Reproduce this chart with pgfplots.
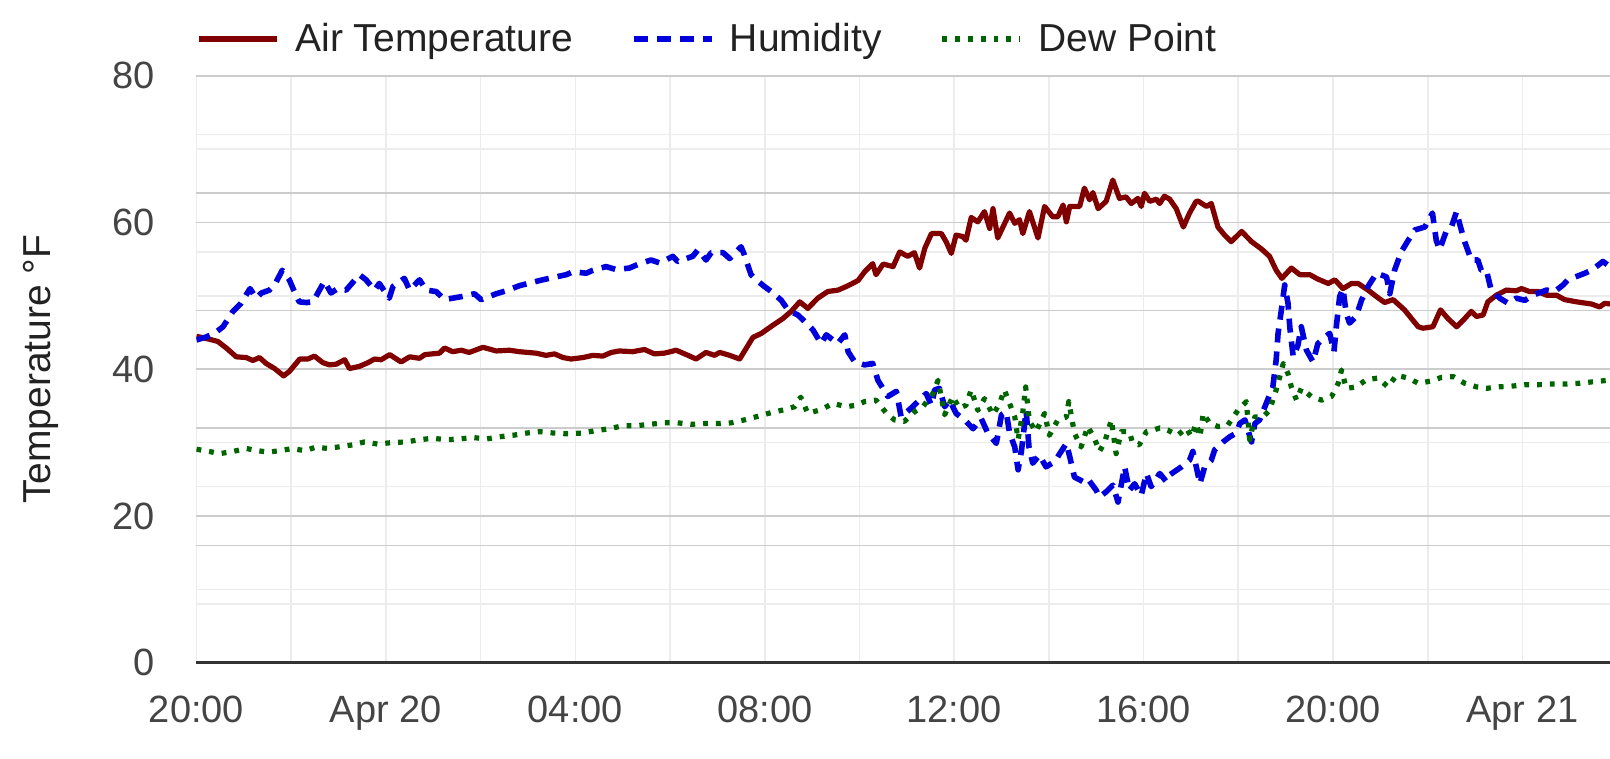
\documentclass[border=0pt]{standalone}
\usepackage{fontspec}
\setmainfont{Liberation Sans}
\usepackage{pgfplots}
\pgfplotsset{compat=1.18}
\definecolor{tempRed}{RGB}{128,0,0}
\definecolor{humBlue}{RGB}{0,0,220}
\definecolor{dewGreen}{RGB}{0,100,0}
\definecolor{gridDark}{RGB}{204,204,204}
\definecolor{gridLight}{RGB}{236,236,236}
\definecolor{axisDark}{RGB}{51,51,51}
\definecolor{tickText}{RGB}{68,68,68}
\definecolor{legText}{RGB}{34,34,34}
\begin{document}
\begin{tikzpicture}
\begin{axis}[
  at={(0pt,0pt)}, anchor=south west,
  scale only axis, width=706.75pt, height=293.4pt,
  xmin=0, xmax=29.85, ymin=0, ymax=80,
  axis lines*=left,
  x axis line style={draw=axisDark, line width=1.5pt},
  y axis line style={draw=none},
  xtick={0,4,8,12,16,20,24,28},
  xticklabels={20:00,Apr 20,04:00,08:00,12:00,16:00,20:00,Apr 21},
  minor xtick={2,6,10,14,18,22,26},
  ytick={0,20,40,60,80},
  minor ytick={8,10,24,30,50,56,70,72},
  extra y ticks={16,32,48,64},
  extra y tick labels={,,,},
  extra y tick style={grid=major},
  grid=both,
  major x grid style={draw=gridLight, line width=0.8pt},
  minor x grid style={draw=gridLight, line width=0.8pt},
  major y grid style={draw=gridDark, line width=0.8pt},
  minor y grid style={draw=gridLight, line width=0.8pt},
  major tick length=0pt, minor tick length=0pt,
  tick style={draw=none},
  /pgf/number format/assume math mode=true,
  yticklabel style={anchor=east, inner sep=0pt, xshift=-20.5pt, font=\fontsize{19}{23}\selectfont, text=tickText},
  xticklabel style={anchor=base, inner sep=0pt, yshift=-30pt, font=\fontsize{19}{23}\selectfont, text=tickText},
  ylabel={Temperature °F},
  ylabel style={at={(axis description cs:-0.1104,0.5)}, anchor=center, inner sep=0pt, font=\fontsize{19.5}{23}\selectfont, text=legText},
  legend columns=-1,
  legend image code/.code={\draw[#1] (0pt,0pt) -- (39pt,0pt);},
  legend image post style={line width=2.7pt},
  legend style={draw=none, fill=none, at={(0,1)}, anchor=west, yshift=18.5pt,
    font=\fontsize{19.5}{23}\selectfont, text=legText, inner sep=0pt, outer sep=0pt,
    nodes={inner sep=0pt},
    /tikz/every odd column/.append style={column sep=7.8pt},
    /tikz/every even column/.append style={column sep=29pt}},
]
\addplot[draw=tempRed, line width=2.6pt, line join=round] coordinates {
(0,44.5) (0.27,44.1) (0.45,43.8) (0.63,42.9) (0.84,41.7) (1.05,41.6) (1.19,41.2) (1.33,41.6) (1.47,40.8) (1.65,40.1) (1.84,39.1) (1.96,39.7) (2.18,41.4) (2.35,41.4) (2.49,41.8) (2.67,40.9) (2.81,40.6) (2.95,40.7) (3.13,41.3) (3.23,40.1) (3.44,40.4) (3.62,40.9) (3.76,41.4) (3.9,41.3) (4.08,42.0) (4.32,41.0) (4.5,41.7) (4.71,41.5) (4.82,42.0) (5.13,42.2)
(5.24,42.9) (5.41,42.4) (5.59,42.6) (5.76,42.3) (6.05,43.0) (6.33,42.5) (6.61,42.6) (6.82,42.4) (7.17,42.2) (7.38,41.9) (7.56,42.1) (7.74,41.6) (7.91,41.4) (8.16,41.6) (8.37,41.9) (8.58,41.8) (8.76,42.3) (8.93,42.5) (9.21,42.4) (9.46,42.7) (9.67,42.1) (9.88,42.2) (10.13,42.6)
(10.38,41.9) (10.55,41.4) (10.76,42.3) (10.94,41.9) (11.05,42.3) (11.26,41.9) (11.47,41.4) (11.75,44.35) (11.93,44.9) (12.17,46.0) (12.38,46.9) (12.56,47.9) (12.74,49.2) (12.91,48.3) (13.12,49.7) (13.33,50.6) (13.55,50.8) (13.76,51.4) (13.97,52.1) (14.11,53.3) (14.28,54.4) (14.35,52.9) (14.5,54.35) (14.71,54.0) (14.85,56.0) (15.02,55.4) (15.16,55.9) (15.27,53.8) (15.38,56.5) (15.52,58.5)
(15.73,58.5) (15.83,57.4) (15.94,55.8) (16.04,58.3) (16.18,58.1) (16.25,57.6) (16.36,60.7) (16.5,60.1) (16.64,61.5) (16.75,59.2) (16.82,61.9) (16.92,57.9) (17.17,61.3) (17.28,59.9) (17.38,60.4) (17.45,58.5) (17.59,61.5) (17.77,57.9) (17.91,62.2) (18.08,60.8) (18.19,60.8) (18.3,62.4) (18.37,60.1) (18.44,62.2) (18.65,62.2) (18.75,64.7) (18.86,63.1) (18.93,64.1) (19.04,61.9) (19.21,62.9) (19.35,65.8) (19.49,63.3) (19.63,63.5) (19.74,62.6) (19.88,63.3) (19.95,62.2) (20.02,64.0) (20.13,62.9) (20.27,63.2) (20.34,62.6) (20.44,63.6) (20.55,63.2) (20.69,61.9) (20.84,59.4) (20.97,61.3) (21.11,62.9)
(21.16,62.9) (21.33,62.2) (21.43,62.6) (21.57,59.4) (21.71,58.3) (21.85,57.4) (22.07,58.8) (22.28,57.4) (22.49,56.4) (22.66,55.4) (22.8,53.5) (22.92,52.4) (23.12,53.8) (23.3,52.9) (23.51,52.9) (23.68,52.3) (23.9,51.7) (24.04,52.2) (24.21,51.0) (24.39,51.7) (24.53,51.7) (24.74,50.8) (24.92,49.9) (25.09,49.1) (25.27,49.5) (25.51,48.1) (25.66,46.9) (25.8,45.8)
(25.9,45.6) (26.11,45.8) (26.27,48.1) (26.43,46.9) (26.61,45.8) (26.78,46.9) (26.92,47.9) (27.03,47.2) (27.17,47.4) (27.27,49.2) (27.45,50.1) (27.66,50.8) (27.87,50.7) (27.98,51.0) (28.15,50.6) (28.33,50.6) (28.51,50.1) (28.72,50.1) (28.89,49.5) (29.14,49.2) (29.46,48.9) (29.63,48.5) (29.74,49.0) (29.85,48.9)
};
\addlegendentry{Air Temperature}
\addplot[draw=humBlue, line width=2.8pt, line join=round, dash pattern=on 7pt off 4.5pt] coordinates {
(0,44.0) (0.2,44.4) (0.38,44.9) (0.56,45.8) (0.77,47.9) (0.94,49.0) (1.13,51.0) (1.26,49.7) (1.37,50.4) (1.54,50.8) (1.65,51.5) (1.81,53.5) (1.96,52.2) (2.1,50.1) (2.17,49.2) (2.32,49.1) (2.46,49.2) (2.7,52.0) (2.84,50.4) (2.98,51.0) (3.16,50.8) (3.44,52.9) (3.58,52.2) (3.76,50.8) (3.86,51.7) (4.07,49.7) (4.15,51.3) (4.39,52.4) (4.5,50.8) (4.71,52.2) (4.85,50.8) (5.06,50.6)
(5.24,49.5) (5.41,49.7) (5.59,49.9) (5.87,50.3) (6.01,49.5) (6.33,50.3) (6.54,50.7) (6.82,51.4) (7.0,51.7) (7.31,52.2) (7.45,52.4) (7.81,52.9) (7.95,53.3) (8.23,53.1) (8.37,53.5) (8.65,54.0) (8.86,53.6) (9.14,53.8) (9.36,54.4) (9.6,54.9) (9.78,54.5) (10.06,55.4) (10.16,54.7)
(10.48,55.4) (10.59,56.3) (10.76,54.9) (10.87,55.9) (11.12,55.9) (11.26,55.1) (11.5,56.7) (11.57,55.6) (11.71,52.9) (11.82,52.2) (11.99,51.3) (12.14,50.6) (12.35,49.4) (12.49,48.1) (12.7,47.4) (12.88,46.3) (13.02,45.35) (13.19,43.5) (13.3,44.7) (13.54,43.5) (13.69,44.7) (13.76,42.4) (13.9,41.0) (14.11,40.6) (14.28,40.8) (14.39,38.5) (14.6,36.3) (14.78,37.0) (14.88,33.5) (15.09,34.7) (15.3,36.0) (15.41,36.7) (15.52,35.1)
(15.59,37.2) (15.69,37.4) (15.8,34.9) (15.9,35.8) (16.04,34.0) (16.25,32.9) (16.4,31.9) (16.57,33.3) (16.71,31.3) (16.89,29.9) (17.0,33.8) (17.1,34.2) (17.17,31.3) (17.28,29.4) (17.35,26.3) (17.42,28.8) (17.52,34.4) (17.58,29.4) (17.66,27.2) (17.8,28.3) (17.94,26.7) (18.12,27.4) (18.37,29.9) (18.44,28.1) (18.54,25.3) (18.72,24.7) (18.82,25.1) (19.0,23.5) (19.07,22.6) (19.21,23.3) (19.35,24.2) (19.46,21.9) (19.6,26.7) (19.7,23.5) (19.81,24.4) (19.95,22.8) (20.06,25.8) (20.16,24.0) (20.34,25.8) (20.48,24.7) (20.55,25.6) (20.8,26.7) (20.97,27.6) (21.04,28.8) (21.12,26.5) (21.19,24.4)
(21.29,26.7) (21.43,27.6) (21.5,29.0) (21.68,30.1) (21.82,30.8) (21.96,31.3) (22.03,32.6) (22.14,33.1) (22.28,30.1) (22.35,32.6) (22.45,33.1) (22.59,35.35) (22.73,37.6) (22.8,41.3) (22.84,44.9) (22.91,48.1) (22.98,51.5) (23.05,49.0) (23.09,45.6) (23.16,41.7) (23.26,43.3) (23.33,45.8) (23.44,42.6) (23.58,41.0) (23.68,43.5) (23.83,44.4) (23.93,44.9) (24.02,42.4) (24.07,45.8) (24.14,49.9) (24.21,51.0) (24.28,47.6) (24.35,46.3) (24.49,47.2) (24.6,49.4) (24.74,51.3) (24.92,53.1) (25.13,52.6) (25.2,50.3) (25.3,53.5) (25.44,56.0) (25.59,57.6) (25.73,59.0)
(25.94,59.4) (26.1,61.3) (26.18,57.6) (26.25,56.3) (26.39,58.8) (26.5,59.4) (26.61,61.5) (26.68,59.7) (26.78,57.4) (26.92,54.9) (27.06,54.9) (27.13,53.5) (27.24,53.5) (27.34,50.8) (27.52,49.7) (27.7,49.0) (27.87,49.7) (28.05,49.4) (28.22,50.1) (28.51,50.8) (28.68,50.6) (28.86,51.5) (28.96,52.2) (29.32,53.1) (29.46,53.5) (29.7,54.7) (29.85,54.0)
};
\addlegendentry{Humidity}
\addplot[draw=dewGreen, line width=2.6pt, line join=round, dash pattern=on 2.4pt off 4pt] coordinates {
(0,29.1) (0.27,28.8) (0.49,28.5) (0.77,28.8) (1.05,29.2) (1.3,28.9) (1.51,28.7) (1.75,28.9) (2.03,29.2) (2.28,28.9) (2.53,29.4) (2.77,29.2) (2.98,29.4) (3.3,29.7) (3.55,30.1) (3.83,29.8) (4.11,30.0) (4.43,30.1) (4.71,30.4) (4.99,30.6)
(5.27,30.4) (5.55,30.5) (5.84,30.7) (6.12,30.5) (6.4,30.8) (6.68,31.0) (6.96,31.3) (7.24,31.5) (7.56,31.3) (7.84,31.2) (8.12,31.3) (8.4,31.6) (8.72,31.9) (9.0,32.3) (9.28,32.3) (9.57,32.5) (9.88,32.7) (10.16,32.7)
(10.45,32.5) (10.73,32.6) (11.01,32.6) (11.29,32.7) (11.57,33.1) (11.86,33.6) (12.14,34.1) (12.42,34.5) (12.63,34.9) (12.76,36.2) (12.91,34.0) (13.19,34.5) (13.44,35.35) (13.72,34.9) (13.93,35.1) (14.11,35.6) (14.35,35.8) (14.57,34.0) (14.74,33.1) (14.95,32.9) (15.16,34.2) (15.34,34.9) (15.55,36.7)
(15.66,38.5) (15.8,33.8) (15.97,36.3) (16.11,34.7) (16.25,35.1) (16.36,37.2) (16.5,34.4) (16.64,36.0) (16.82,33.8) (16.96,35.35) (17.06,37.2) (17.17,35.35) (17.28,33.5) (17.35,30.4) (17.45,34.2) (17.51,37.6) (17.59,32.9) (17.73,31.5) (17.91,34.0) (18.01,31.0) (18.19,33.1) (18.37,33.5) (18.42,35.6) (18.54,31.3) (18.68,29.4) (18.82,32.2) (18.96,30.6) (19.07,28.8) (19.18,30.1) (19.32,33.1) (19.42,28.5) (19.53,31.5) (19.7,31.5) (19.77,29.9) (19.91,29.7) (20.06,31.5) (20.2,31.7) (20.34,32.0) (20.51,31.7) (20.72,31.0) (20.9,32.0) (21.01,30.8) (21.11,32.6)
(21.19,30.8) (21.26,34.0) (21.4,32.6) (21.57,32.2) (21.78,32.4) (21.99,34.4) (22.17,35.6) (22.24,30.4) (22.35,33.5) (22.52,33.5) (22.66,34.4) (22.8,37.2) (22.95,40.8) (23.05,39.4) (23.12,37.6) (23.23,35.8) (23.33,37.4) (23.54,36.3) (23.76,35.8) (23.97,36.3) (24.11,38.1) (24.18,39.9) (24.28,37.4) (24.49,37.6) (24.71,38.6) (24.95,38.8) (25.16,37.6) (25.34,39.2) (25.59,38.8) (25.8,38.1)
(26.08,38.4) (26.29,38.9) (26.54,39.0) (26.78,38.1) (27.03,37.6) (27.24,37.4) (27.48,37.6) (27.77,37.7) (28.05,37.9) (28.33,37.9) (28.65,38.0) (28.93,38.0) (29.21,38.1) (29.49,38.3) (29.81,38.5)
};
\addlegendentry{Dew Point}
\end{axis}
\pgfresetboundingbox
\path[use as bounding box] (-98.25pt,-48.15pt) rectangle (706.75pt,331.35pt);
\end{tikzpicture}
\end{document}
